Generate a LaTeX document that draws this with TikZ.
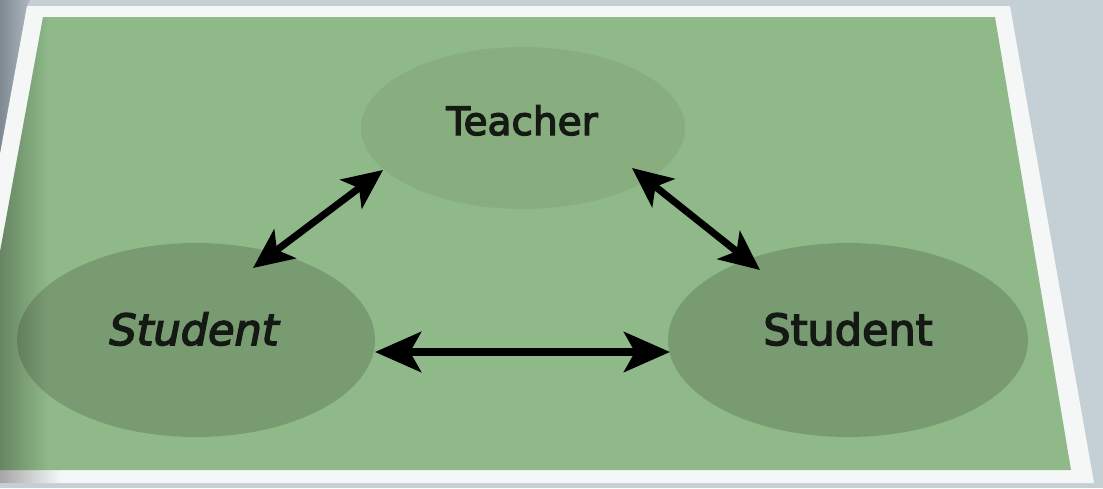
\documentclass[tikz,border=0pt]{standalone}
\usepackage{fontspec}
\setmainfont{DejaVu Sans}
\newfontfamily\lblfont[FakeBold=3.5]{DejaVu Sans}
\usetikzlibrary{shapes.geometric,arrows.meta,fadings,calc}
\definecolor{bggray}{HTML}{C5CFD6}
\definecolor{darkgray}{HTML}{77828C}
\definecolor{midgray}{HTML}{AEB7BE}
\definecolor{framewhite}{HTML}{F5F7F7}
\definecolor{cardgreen}{HTML}{8FB989}
\definecolor{teachgreen}{HTML}{88AE80}
\definecolor{studgreen}{HTML}{799B72}
\definecolor{txt}{HTML}{141A13}
\tikzfading[name=fadeR, left color=transparent!0, right color=transparent!100]
\tikzset{
  blob/.style={ellipse, inner sep=0pt, draw=none},
  lbl/.style={text=txt, anchor=base, inner sep=0pt},
  arrd/.style={line width=7pt, draw=black,
    {Stealth[length=40pt,width=36pt,inset=10pt]}-{Stealth[length=40pt,width=36pt,inset=10pt]}},
  arrh/.style={line width=7.5pt, draw=black,
    {Stealth[length=46pt,width=40pt,inset=11pt]}-{Stealth[length=46pt,width=40pt,inset=11pt]}}
}
\begin{document}
\begin{tikzpicture}[x=1pt,y=-1pt]
\useasboundingbox (0,0) rectangle (1103,488);
\clip (0,0) rectangle (1103,488);
\fill[bggray] (0,0) rectangle (1103,488);
% dark gray region left of the frame
\shade[left color=darkgray, right color=midgray] (0,0) -- (30,0) -- (27,6) -- (-5,200) -- (0,200) -- cycle;
% white frame
\fill[framewhite] (27,6) -- (1010,6) -- (1094,483) -- (-60,483) -- cycle;
\begin{scope}
  \clip (27,6) -- (1010,6) -- (1094,483) -- (-60,483) -- cycle;
  \fill[black!35, path fading=fadeR] (0,440) rectangle (60,488);
\end{scope}
% green card
\fill[cardgreen] (43,17) -- (995,17) -- (1071,470) -- (-40,470) -- cycle;
% ellipses
\node[blob, fill=teachgreen, minimum width=324pt, minimum height=162pt] (t) at (523,128) {};
\node[blob, fill=studgreen, minimum width=358pt, minimum height=194pt] (sl) at (196,340) {};
\node[blob, fill=studgreen, minimum width=360pt, minimum height=194pt] (sr) at (848,340) {};
% left shading of the card
\begin{scope}
  \clip (43,17) -- (995,17) -- (1071,470) -- (-40,470) -- cycle;
  \fill[black, opacity=0.28, path fading=fadeR] (0,0) rectangle (48,488);
\end{scope}
% labels
\node[lbl, font=\lblfont\fontsize{39}{39}\selectfont] (tl) at (522,135) {Teacher};
\node[lbl, font=\lblfont\fontsize{43}{43}\selectfont\itshape] (sll) at (194,345) {Student};
\node[lbl, font=\lblfont\fontsize{43}{43}\selectfont] (srl) at (848,345) {Student};
% arrows
\draw[arrd] ([shift={(57,-72)}]sl.center) -- ([shift={(-140,42)}]t.center);
\draw[arrd] ([shift={(109,40)}]t.center) -- ([shift={(-88,-70)}]sr.center);
\draw[arrh] ([shift={(179,12)}]sl.center) -- ([shift={(-178,12)}]sr.center);
\end{tikzpicture}
\end{document}
